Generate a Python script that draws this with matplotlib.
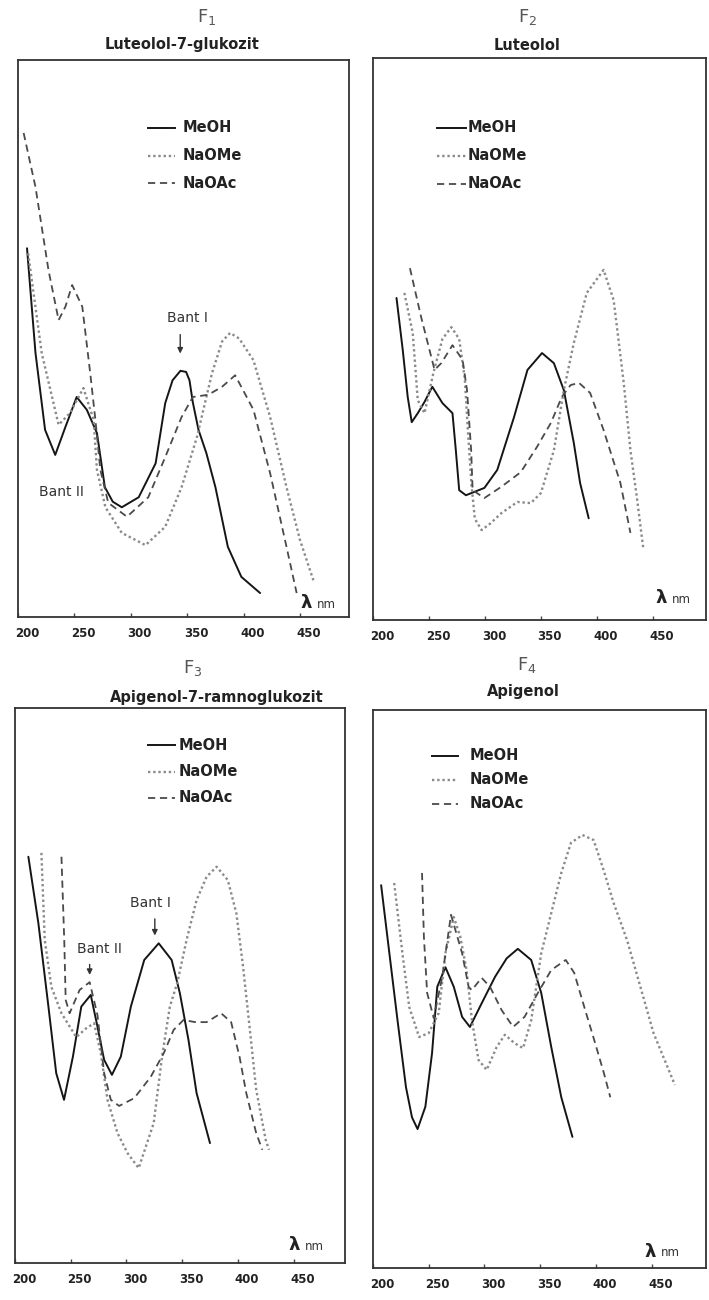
import matplotlib
matplotlib.use("Agg")
import matplotlib.pyplot as plt
from matplotlib.lines import Line2D
from matplotlib.transforms import ScaledTranslation

# ---------------- data (wavelength nm, relative absorbance) ----------------
solvents = ["MeOH", "NaOMe", "NaOAc"]
titles = ["Luteolol-7-glukozit", "Luteolol", "Apigenol-7-ramnoglukozit", "Apigenol"]
panel_ids = ["1", "2", "3", "4"]
tick_values = [200, 250, 300, 350, 400, 450]

# F1 Luteolol-7-glukozit
f1_meoh_nm = [208, 215.5, 224, 233, 242, 252, 261, 270, 277, 284, 292, 307, 322, 330.5, 337, 344, 349, 352, 355, 360, 367, 375, 386, 398, 414.6]
f1_meoh_ab = [0.662, 0.474, 0.336, 0.291, 0.341, 0.395, 0.372, 0.330, 0.233, 0.207, 0.197, 0.215, 0.276, 0.384, 0.425, 0.442, 0.440, 0.425, 0.385, 0.336, 0.294, 0.233, 0.126, 0.072, 0.043]
f1_naome_nm = [209, 221, 236, 246, 258, 267, 270, 277.5, 292, 313, 330.5, 345, 358.6, 372, 381, 388, 396, 408.7, 423.5, 438, 450, 461.8]
f1_naome_ab = [0.653, 0.474, 0.345, 0.366, 0.411, 0.354, 0.264, 0.197, 0.151, 0.129, 0.162, 0.233, 0.323, 0.438, 0.495, 0.510, 0.500, 0.461, 0.359, 0.233, 0.138, 0.066]
f1_naoac_nm = [205, 215.5, 227, 236, 242, 248, 257, 264, 268.6, 273, 280, 296.6, 315.5, 330.5, 345, 355, 368.6, 380.7, 392.5, 408.7, 423.5, 438, 447]
f1_naoac_ab = [0.869, 0.772, 0.623, 0.533, 0.557, 0.596, 0.557, 0.438, 0.354, 0.264, 0.205, 0.180, 0.215, 0.287, 0.359, 0.395, 0.399, 0.413, 0.434, 0.372, 0.258, 0.126, 0.043]

# F2 Luteolol
f2_meoh_nm = [221, 226.6, 231, 234.6, 240, 246, 253, 262, 271, 274, 277, 283, 299.5, 311, 326, 338, 351, 361.6, 370.5, 379.4, 385, 392.7]
f2_meoh_ab = [0.573, 0.480, 0.397, 0.352, 0.368, 0.388, 0.415, 0.386, 0.368, 0.302, 0.231, 0.222, 0.235, 0.267, 0.361, 0.445, 0.475, 0.457, 0.409, 0.315, 0.244, 0.181]
f2_naome_nm = [228, 235.5, 240, 246, 254, 262, 270, 277, 282, 285, 288, 291, 297, 305, 314.6, 329, 341, 350, 361.6, 370.5, 379.4, 391, 406, 415, 424, 430, 436, 441.6]
f2_naome_ab = [0.582, 0.511, 0.391, 0.368, 0.440, 0.500, 0.521, 0.500, 0.430, 0.330, 0.240, 0.180, 0.160, 0.172, 0.190, 0.210, 0.208, 0.226, 0.302, 0.409, 0.493, 0.582, 0.623, 0.569, 0.422, 0.302, 0.214, 0.125]
f2_naoac_nm = [233, 243, 255, 261, 271, 280, 284, 287.7, 289, 299.5, 314.6, 332, 346.5, 359, 368.7, 376.5, 384, 394, 406, 421, 430]
f2_naoac_ab = [0.626, 0.539, 0.445, 0.457, 0.489, 0.463, 0.409, 0.302, 0.231, 0.217, 0.237, 0.263, 0.308, 0.351, 0.397, 0.418, 0.422, 0.404, 0.338, 0.244, 0.155]

# F3 Apigenol-7-ramnoglukozit
f3_meoh_nm = [212, 221, 230, 237, 244, 252, 259.5, 268, 274, 280, 287, 295, 304, 316, 329, 340.6, 348, 355.7, 363, 375]
f3_meoh_ab = [0.732, 0.612, 0.462, 0.342, 0.294, 0.372, 0.462, 0.483, 0.426, 0.366, 0.339, 0.372, 0.462, 0.546, 0.576, 0.546, 0.486, 0.402, 0.306, 0.216]
f3_naome_nm = [223.7, 226.7, 232.7, 241.7, 255, 264, 271, 277, 283, 292, 301, 311, 324.5, 332, 339, 345.8, 354, 363, 372, 381, 391, 398.7, 404.7, 410.5, 416.5, 425, 428]
f3_naome_ab = [0.739, 0.582, 0.497, 0.450, 0.407, 0.423, 0.432, 0.378, 0.294, 0.234, 0.198, 0.171, 0.252, 0.372, 0.462, 0.506, 0.582, 0.654, 0.696, 0.714, 0.690, 0.630, 0.534, 0.426, 0.312, 0.222, 0.204]
f3_naoac_nm = [241.7, 244.2, 245.5, 249, 258, 267, 274, 280, 286, 293.5, 307, 321.7, 333.5, 342.4, 351.3, 361.7, 372, 385, 394, 401.6, 407.6, 416.5, 422]
f3_naoac_ab = [0.732, 0.582, 0.474, 0.450, 0.492, 0.506, 0.447, 0.342, 0.294, 0.283, 0.297, 0.335, 0.378, 0.420, 0.438, 0.434, 0.434, 0.450, 0.434, 0.371, 0.306, 0.234, 0.204]

# F4 Apigenol
f4_meoh_nm = [207.3, 214.7, 222, 229.6, 235, 240, 247, 253, 257.7, 265, 272.5, 280, 287, 297.7, 309.6, 320, 330, 342, 351, 360, 369, 379]
f4_meoh_ab = [0.686, 0.564, 0.444, 0.324, 0.270, 0.249, 0.289, 0.385, 0.504, 0.539, 0.504, 0.450, 0.432, 0.475, 0.522, 0.555, 0.572, 0.552, 0.493, 0.396, 0.306, 0.235]
f4_naome_nm = [219, 226.4, 232.5, 241.4, 250, 259, 265, 272.5, 278.4, 284, 288.8, 294.7, 302, 311, 318.4, 327, 334.7, 342, 351, 360, 369, 377.7, 388, 398, 407, 416, 428, 440, 451.8, 471]
f4_naome_ab = [0.690, 0.564, 0.468, 0.414, 0.421, 0.457, 0.564, 0.629, 0.593, 0.534, 0.444, 0.373, 0.355, 0.396, 0.418, 0.403, 0.394, 0.444, 0.564, 0.636, 0.708, 0.762, 0.776, 0.767, 0.713, 0.654, 0.588, 0.504, 0.421, 0.328]
f4_naoac_nm = [244, 245.7, 248.6, 254.5, 262, 270, 280, 285.8, 288.7, 297.5, 305, 315.5, 325.8, 336, 348, 360, 373, 380.6, 389.6, 398.5, 407.3, 413]
f4_naoac_ab = [0.708, 0.593, 0.493, 0.448, 0.520, 0.633, 0.564, 0.504, 0.498, 0.520, 0.504, 0.462, 0.432, 0.450, 0.493, 0.534, 0.552, 0.529, 0.468, 0.409, 0.349, 0.306]

series = [
    [(f1_meoh_nm, f1_meoh_ab), (f1_naome_nm, f1_naome_ab), (f1_naoac_nm, f1_naoac_ab)],
    [(f2_meoh_nm, f2_meoh_ab), (f2_naome_nm, f2_naome_ab), (f2_naoac_nm, f2_naoac_ab)],
    [(f3_meoh_nm, f3_meoh_ab), (f3_naome_nm, f3_naome_ab), (f3_naoac_nm, f3_naoac_ab)],
    [(f4_meoh_nm, f4_meoh_ab), (f4_naome_nm, f4_naome_ab), (f4_naoac_nm, f4_naoac_ab)],
]

# ---------------- layout / style ----------------
W, H = 709, 1300
fig = plt.figure(figsize=(W / 100, H / 100), dpi=100)
fig.patch.set_facecolor("white")

def fx(x):
    return x / W

def fy(y):
    return 1 - y / H

# box in pixels: left, right, top, bottom ; xlim
boxes = [
    (18, 349, 60, 617, (200.4, 493.4)),
    (373, 706, 58, 620, (201.8, 497.5)),
    (15, 345, 708, 1263, (202.9, 496.2)),
    (373, 706, 710, 1268, (202.9, 498.9)),
]
styles = [
    dict(color="#151515", lw=1.4, ls="-"),
    dict(color="#8a8a8a", lw=1.7, ls=(0, (1.0, 1.2))),
    dict(color="#4a4a4a", lw=1.3, ls=(0, (4.0, 2.6))),
]
# F label centres, title centres, legend (line x0, x1, text x, y0, dy), lambda pos
f_pos = [(207, 17), (528, 17), (193, 668), (527, 665)]
title_pos = [(182, 45), (527, 45), (217, 697), (523, 692)]
legend_pos = [(148, 175, 183, 128, 27.5), (437, 466, 468, 128, 28), (148, 175, 179, 745, 26.5), (432, 458, 470, 756, 24)]
lam_pos = [(300, 603), (655, 598), (288, 1245), (644, 1252)]

bold = dict(fontweight="bold", family=["DejaVu Sans"])

for i, (l, r, t, b, xl) in enumerate(boxes):
    ax = fig.add_axes([fx(l), fy(b), (r - l) / W, (b - t) / H])
    ax.set_xlim(*xl)
    ax.set_ylim(0, 1)
    for s in ax.spines.values():
        s.set_color("#333333")
        s.set_linewidth(1.3)
    ax.set_yticks([])
    ax.set_xticks(tick_values)
    ax.set_xticklabels([str(v) for v in tick_values])
    ax.tick_params(axis="x", direction="in", length=3, width=1, color="#444444",
                   pad=7, labelsize=8.5, labelcolor="#222222")
    off = ScaledTranslation(0.09, 0, fig.dpi_scale_trans)
    for lab in ax.get_xticklabels():
        lab.set_fontweight("bold")
        lab.set_transform(lab.get_transform() + off)

    for (xs, ys), st in zip(series[i], styles):
        ax.plot(xs, ys, solid_joinstyle="round", solid_capstyle="round", **st)

    # F label and title
    fxp, fyp = f_pos[i]
    fig.text(fx(fxp), fy(fyp), "F" + r"$_{" + panel_ids[i] + "}$", ha="center", va="center",
             fontsize=13, color="#555555")
    tx, ty = title_pos[i]
    fig.text(fx(tx), fy(ty), titles[i], ha="center", va="center", fontsize=10.5,
             color="#222222", **bold)

    # legend
    x0, x1, xt, y0, dy = legend_pos[i]
    for k, (name, st) in enumerate(zip(solvents, styles)):
        yy = y0 + k * dy
        fig.add_artist(Line2D([fx(x0), fx(x1)], [fy(yy), fy(yy)], **st))
        fig.text(fx(xt), fy(yy), name, ha="left", va="center", fontsize=10.5,
                 color="#222222", **bold)

    # lambda nm
    lx, ly = lam_pos[i]
    fig.text(fx(lx), fy(ly), "λ", ha="left", va="center", fontsize=13, color="#222222",
             fontweight="bold")
    fig.text(fx(lx + 17), fy(ly + 1), "nm", ha="left", va="center", fontsize=8.5,
             color="#333333")

    # band annotations
    if i == 0:
        ax.annotate("", xy=(343.8, 0.468), xytext=(343.8, 0.512),
                    arrowprops=dict(arrowstyle="-|>", color="#333333", lw=1, mutation_scale=8))
        ax.text(350.5, 0.537, "Bant I", ha="center", va="center", fontsize=10, color="#333333")
        ax.text(238.5, 0.224, "Bant II", ha="center", va="center", fontsize=10, color="#333333")
    if i == 2:
        ax.annotate("", xy=(325.5, 0.585), xytext=(325.5, 0.625),
                    arrowprops=dict(arrowstyle="-|>", color="#333333", lw=1, mutation_scale=8))
        ax.text(322, 0.648, "Bant I", ha="center", va="center", fontsize=10, color="#333333")
        ax.annotate("", xy=(267, 0.514), xytext=(267, 0.543),
                    arrowprops=dict(arrowstyle="-|>", color="#333333", lw=1, mutation_scale=8))
        ax.text(276, 0.566, "Bant II", ha="center", va="center", fontsize=10, color="#333333")

fig.savefig("out.png", dpi=100, facecolor="white")
